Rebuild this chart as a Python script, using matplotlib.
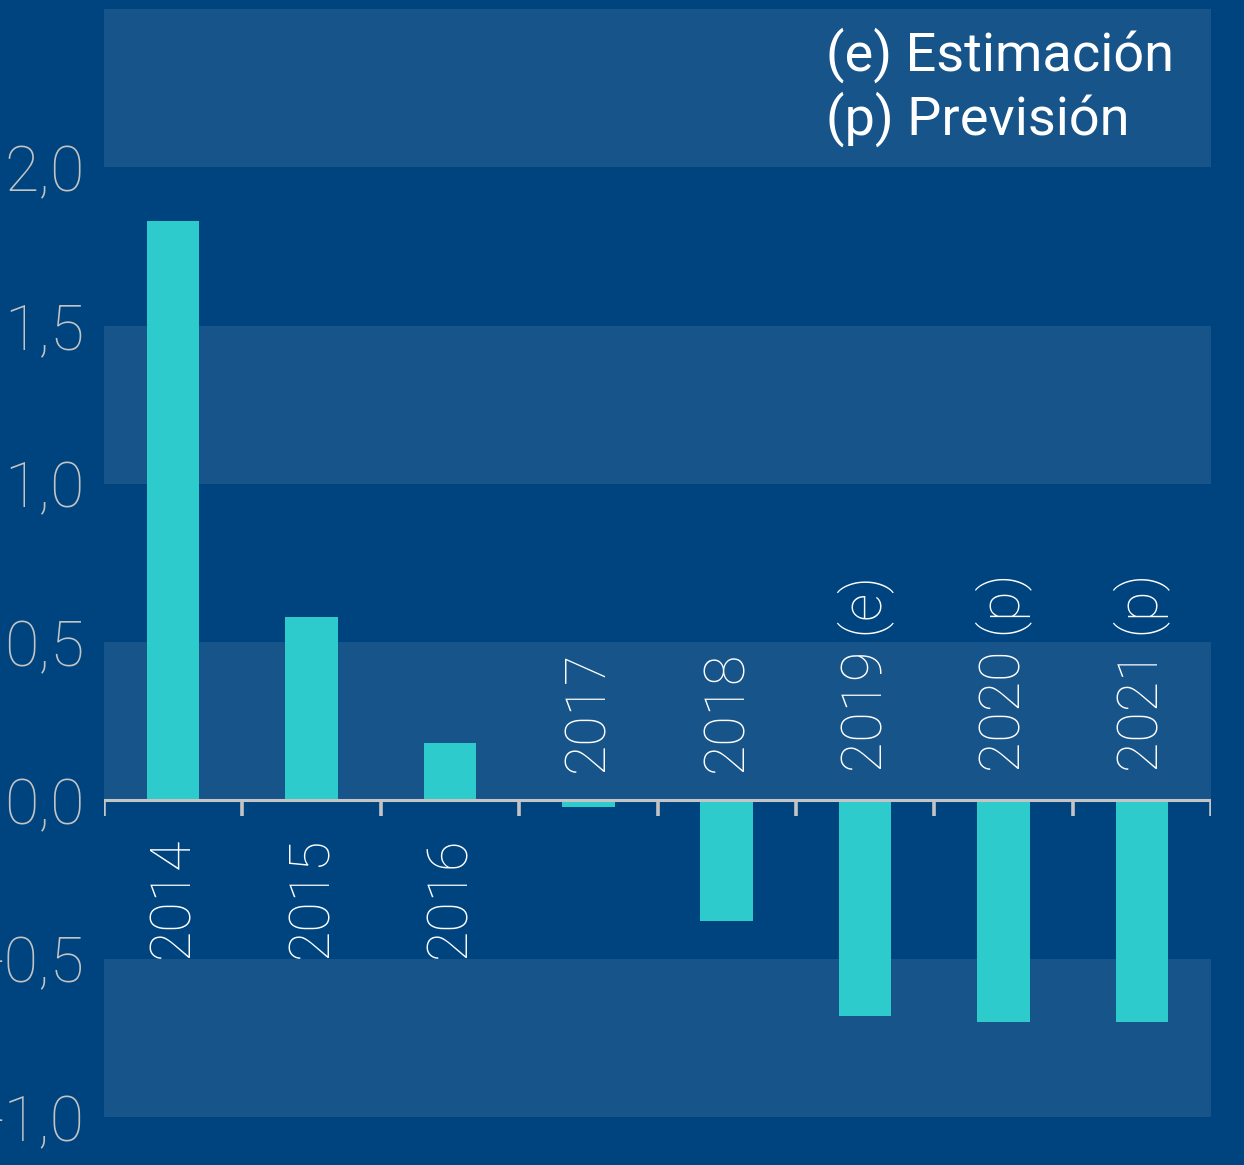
import numpy as np
import matplotlib
matplotlib.use('Agg')
import matplotlib.pyplot as plt

# datos
years = ['2014', '2015', '2016', '2017', '2018', '2019 (e)', '2020 (p)', '2021 (p)']
values = [1.83, 0.58, 0.18, -0.02, -0.38, -0.68, -0.70, -0.70]
yticks = [-1.0, -0.5, 0.0, 0.5, 1.0, 1.5, 2.0]
ytick_labels = ['-1,0', '-0,5', '0,0', '0,5', '1,0', '1,5', '2,0']
bands = [(2.0, 2.5), (1.0, 1.5), (0.0, 0.5), (-1.0, -0.5)]
legend_lines = ['(e) Estimación', '(p) Previsión']

bg = '#00447f'
band_col = '#175489'
bar_col = '#2dcbcc'
grey = '#c4c4c4'

plt.rcParams['font.family'] = ['Roboto', 'DejaVu Sans']

F = plt.figure(figsize=(12.44, 11.65), dpi=100, facecolor=bg)
W, H = 1244., 1165.
ax = F.add_axes([104/W, 1 - 1117/H, (1211-104)/W, (1117-9)/H])
ax.set_facecolor(bg)

for lo, hi in bands:
    ax.axhspan(lo, hi, color=band_col, lw=0, zorder=0)

x = np.arange(len(years))
ax.bar(x, values, width=0.38, color=bar_col, zorder=2)

ax.set_xlim(-0.5, len(years) - 0.5)
ax.set_ylim(-1.0, 2.5)

for s in ['top', 'right', 'left', 'bottom']:
    ax.spines[s].set_visible(False)

# eje en cero con marcas
ax.axhline(0, color=grey, lw=2.2, zorder=3)
tick_len = 0.05
for b in np.arange(-0.5, len(years), 1.0):
    ax.plot([b, b], [0, -tick_len], color=grey, lw=2.6, zorder=3,
            solid_capstyle='butt')

ax.set_xticks([])
ax.set_yticks(yticks)
ax.set_yticklabels(ytick_labels)
ax.tick_params(axis='y', length=0, pad=14, labelsize=45, labelcolor=grey)
for t in ax.get_yticklabels():
    t.set_fontweight('light')

# etiquetas de los años
for xi, v, lab in zip(x, values, years):
    if v >= 0:
        ax.text(xi, -0.115, lab, rotation=90, ha='center', va='top',
                fontsize=40, color='white', fontweight='light')
    else:
        ax.text(xi, 0.09, lab, rotation=90, ha='center', va='bottom',
                fontsize=40, color='white', fontweight='light')

F.text(826/W, 1 - 55/H, legend_lines[0], fontsize=39, color='white',
       va='center', ha='left')
F.text(826/W, 1 - 119/H, legend_lines[1], fontsize=39, color='white',
       va='center', ha='left')

plt.savefig('out.png', dpi=100, facecolor=bg)
plt.close()
